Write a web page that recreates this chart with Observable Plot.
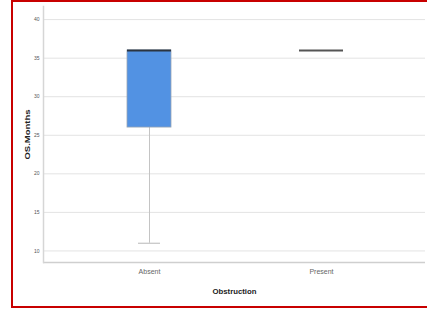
<!DOCTYPE html>
<html>
<head>
<meta charset="utf-8">
<script src="https://cdn.jsdelivr.net/npm/d3@7"></script>
<script src="https://cdn.jsdelivr.net/npm/@observablehq/plot@0.6"></script>
<style>
  html, body { margin: 0; padding: 0; background: #fff; }
  #wrap { position: relative; width: 427px; height: 309px; overflow: hidden; }
  #border { position: absolute; left: 11px; top: 0px; width: 430px; height: 304px; border: 2px solid #c80000; box-sizing: content-box; pointer-events: none; }
  svg { display: block; }
</style>
</head>
<body>
<div id="wrap"><div id="chart"></div><div id="border"></div></div>
<script>
const categories = ["Absent", "Present"];
const q1Values = [26, 36];
const medianValues = [36, 36];
const q3Values = [36, 36];
const lowValues = [11, 36];
const highValues = [36, 36];
const yTicks = [10, 15, 20, 25, 30, 35, 40];

const data = categories.map((c, i) => ({
  cat: c, q1: q1Values[i], median: medianValues[i], q3: q3Values[i], low: lowValues[i], high: highValues[i]
}));
const withBox = data.filter(d => d.q3 > d.q1);
const withLow = data.filter(d => d.low < d.q1);

const chart = Plot.plot({
  width: 427,
  height: 309,
  marginLeft: 43,
  marginRight: 2,
  marginTop: 6,
  marginBottom: 47,
  style: { fontFamily: "Liberation Sans, Arial, sans-serif", background: "white" },
  x: { type: "band", domain: categories, range: [63, 407], paddingInner: 0.744, paddingOuter: 0.372 },
  y: { domain: [8.5, 41.7] },
  marks: [
    Plot.ruleY(yTicks, { stroke: "#e3e3e3", strokeWidth: 1 }),
    Plot.ruleY([8.5], { stroke: "#cfcfcf", strokeWidth: 1.5 }),
    Plot.frame({ anchor: "left", stroke: "#d6d6d6", strokeWidth: 1.5 }),
    Plot.axisY({ ticks: yTicks, tickSize: 0, tickPadding: 4, fontSize: 5, fill: "#555",
      label: "OS.Months", labelAnchor: "center", labelArrow: "none", labelOffset: 18 }),
    Plot.axisX({ tickSize: 0, tickPadding: 7, fontSize: 7, fill: "#666",
      label: "Obstruction", labelAnchor: "center", labelArrow: "none", labelOffset: 31 }),
    Plot.ruleX(withLow, { x: "cat", y1: "low", y2: "q1", stroke: "#c4c4c4", strokeWidth: 1 }),
    Plot.tickY(withLow, { x: "cat", y: "low", stroke: "#b8b8b8", strokeWidth: 1, insetLeft: 11, insetRight: 11 }),
    Plot.barY(withBox, { x: "cat", y1: "q1", y2: "q3", fill: "#5292e3", stroke: "#9aa6b4", strokeWidth: 0.8 }),
    Plot.tickY(data, { x: "cat", y: "median", stroke: d => d.q3 > d.q1 ? "#2b3440" : "#555", strokeWidth: 2 })
  ]
});

chart.querySelectorAll('[aria-label="y-axis label"] text').forEach(t => {
  t.setAttribute("font-weight", "bold");
  t.setAttribute("fill", "#222");
  t.setAttribute("font-size", "7");
  t.setAttribute("textLength", "50");
  t.setAttribute("lengthAdjust", "spacingAndGlyphs");
});
chart.querySelectorAll('[aria-label="x-axis label"] text').forEach(t => {
  t.setAttribute("font-weight", "bold");
  t.setAttribute("fill", "#222");
  t.setAttribute("font-size", "7");
  t.setAttribute("textLength", "44");
  t.setAttribute("lengthAdjust", "spacingAndGlyphs");
});
document.getElementById("chart").appendChild(chart);
</script>
</body>
</html>
